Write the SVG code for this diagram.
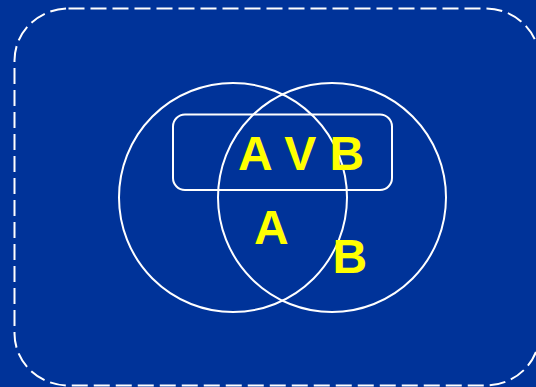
<svg xmlns="http://www.w3.org/2000/svg" width="536" height="387" viewBox="0 0 536 387">
<style>
.ln{fill:none;stroke:#ffffff;stroke-width:2}
.lbl{font-family:"Liberation Sans",Arial,sans-serif;font-weight:bold;font-size:48px;fill:#ffff00}
</style>
<rect x="0" y="0" width="536" height="387" fill="#003399"/>
<g id="frame"><rect class="ln" x="14.5" y="8.5" width="525" height="377" rx="54" ry="52" stroke-dasharray="16 6"/></g>
<g id="circleA"><ellipse class="ln" cx="233" cy="197.5" rx="114" ry="114.5"/></g>
<g id="circleB"><ellipse class="ln" cx="332" cy="197.5" rx="114" ry="114.5"/></g>
<g id="union"><rect class="ln" x="173" y="114.5" width="219" height="75.5" rx="12"/><text class="lbl" x="238" y="170">A V B</text></g>
<g id="labelA"><text class="lbl" x="254" y="244">A</text></g>
<g id="labelB"><text class="lbl" x="332.5" y="273">B</text></g>
<g id="connectors"></g>
</svg>
